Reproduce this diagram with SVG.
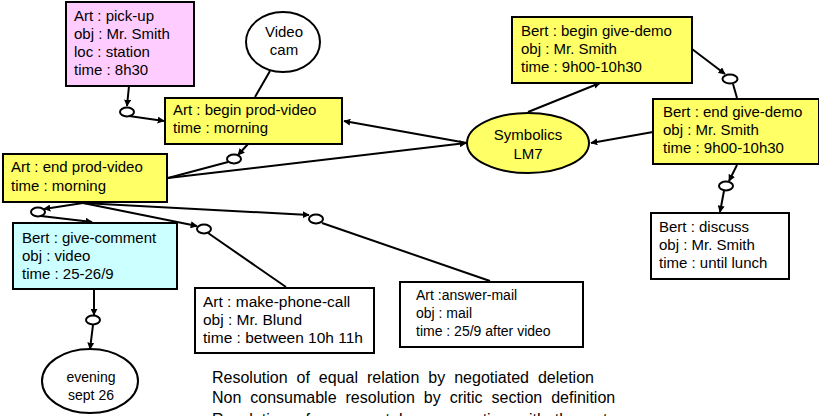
<svg xmlns="http://www.w3.org/2000/svg" width="819" height="416" viewBox="0 0 819 416">
<defs>
<style>
text{font-family:"Liberation Sans",Arial,sans-serif;font-size:15px;fill:#000}
.box{stroke:#000;stroke-width:2}
.y{fill:#ffff66}
.p{fill:#ffccff}
.c{fill:#ccffff}
.w{fill:#fff}
.rel{fill:#fff;stroke:#000;stroke-width:2}
.ln{stroke:#000;stroke-width:2;fill:none}
.a{marker-end:url(#ah)}
.mid{text-anchor:middle}
.note{font-size:16px;word-spacing:4.5px}
</style>
<marker id="ah" viewBox="0 0 10 10" refX="9" refY="5" markerWidth="7" markerHeight="7" markerUnits="userSpaceOnUse" orient="auto">
<path d="M0,0 L10,5 L0,10 z" fill="#000"/>
</marker>
</defs>
<rect width="819" height="416" fill="#fff"/>

<g id="connectors">
<line class="ln a" x1="129" y1="86" x2="127" y2="106"/>
<line class="ln a" x1="129" y1="116" x2="164" y2="121"/>
<line class="ln" x1="255" y1="97" x2="270" y2="71"/>
<line class="ln a" x1="248" y1="144" x2="238" y2="155"/>
<line class="ln" x1="228" y1="162" x2="168" y2="178"/>
<line class="ln a" x1="467" y1="143" x2="344" y2="121"/>
<line class="ln a" x1="168" y1="178" x2="466" y2="143"/>
<line class="ln a" x1="528" y1="112" x2="600" y2="83"/>
<line class="ln a" x1="692" y1="49" x2="725" y2="74"/>
<line class="ln" x1="733" y1="84" x2="737" y2="98"/>
<line class="ln a" x1="653" y1="132" x2="591" y2="143"/>
<line class="ln a" x1="737" y1="165" x2="729" y2="181"/>
<line class="ln a" x1="724" y1="191" x2="720" y2="212"/>
<line class="ln a" x1="83" y1="203" x2="44" y2="209"/>
<line class="ln a" x1="41" y1="216" x2="92" y2="222"/>
<line class="ln a" x1="83" y1="203" x2="197" y2="226"/>
<line class="ln" x1="208" y1="233" x2="286" y2="287"/>
<line class="ln a" x1="83" y1="203" x2="309" y2="215"/>
<line class="ln" x1="322" y1="223" x2="490" y2="281"/>
<line class="ln a" x1="94" y1="290" x2="94" y2="315"/>
<line class="ln a" x1="93" y1="325" x2="90" y2="349"/>
<ellipse class="rel" cx="127" cy="112" rx="7" ry="4.5"/>
<ellipse class="rel" cx="234" cy="159" rx="7" ry="4.5"/>
<ellipse class="rel" cx="730" cy="79" rx="7.5" ry="4.5"/>
<ellipse class="rel" cx="726" cy="186" rx="7" ry="4.5"/>
<ellipse class="rel" cx="38" cy="212" rx="7" ry="4.5"/>
<ellipse class="rel" cx="204" cy="229" rx="7" ry="4.5"/>
<ellipse class="rel" cx="316" cy="219" rx="7" ry="4.5"/>
<ellipse class="rel" cx="93" cy="320" rx="7" ry="4.5"/>
</g>

<g id="pick-up">
<rect class="box p" x="66" y="2" width="128" height="84"/>
<text x="74" y="21">Art : pick-up</text>
<text x="74" y="39">obj : Mr. Smith</text>
<text x="74" y="57">loc : station</text>
<text x="74" y="75">time : 8h30</text>
</g>

<g id="video-cam">
<ellipse class="box w" cx="283" cy="42" rx="37" ry="30"/>
<text class="mid" x="284" y="37">Video</text>
<text class="mid" x="284" y="55">cam</text>
</g>

<g id="begin-prod-video">
<rect class="box y" x="165" y="98" width="177" height="46"/>
<text x="173" y="115">Art : begin prod-video</text>
<text x="173" y="133">time : morning</text>
</g>

<g id="end-prod-video">
<rect class="box y" x="3" y="154" width="164" height="48"/>
<text x="11" y="172">Art : end prod-video</text>
<text x="11" y="191">time : morning</text>
</g>

<g id="symbolics">
<ellipse class="box y" cx="528" cy="143" rx="61" ry="30"/>
<text class="mid" x="528" y="140">Symbolics</text>
<text class="mid" x="528" y="159">LM7</text>
</g>

<g id="begin-give-demo">
<rect class="box y" x="512" y="17" width="180" height="66"/>
<text x="521" y="36">Bert : begin give-demo</text>
<text x="521" y="54">obj : Mr. Smith</text>
<text x="521" y="72">time : 9h00-10h30</text>
</g>

<g id="end-give-demo">
<rect class="box y" x="653" y="99" width="166" height="65"/>
<text x="663" y="117">Bert : end give-demo</text>
<text x="663" y="135">obj : Mr. Smith</text>
<text x="663" y="153">time : 9h00-10h30</text>
</g>

<g id="discuss">
<rect class="box w" x="651" y="213" width="138" height="66"/>
<text x="659" y="232">Bert : discuss</text>
<text x="659" y="250">obj : Mr. Smith</text>
<text x="659" y="268">time : until lunch</text>
</g>

<g id="give-comment">
<rect class="box c" x="13" y="223" width="164" height="66"/>
<text x="22" y="243">Bert : give-comment</text>
<text x="22" y="261">obj : video</text>
<text x="22" y="279">time : 25-26/9</text>
</g>

<g id="evening">
<ellipse class="box w" cx="90" cy="381" rx="48" ry="32"/>
<text class="mid" x="91" y="382" style="font-size:14px">evening</text>
<text class="mid" x="91" y="400" style="font-size:14px">sept 26</text>
</g>

<g id="make-phone-call">
<rect class="box w" x="195" y="288" width="179" height="65"/>
<text x="203" y="307" style="font-size:15.5px">Art : make-phone-call</text>
<text x="203" y="325" style="font-size:15.5px">obj : Mr. Blund</text>
<text x="203" y="343" style="font-size:15.5px">time : between 10h 11h</text>
</g>

<g id="answer-mail">
<rect class="box w" x="400" y="282" width="183" height="65"/>
<text x="416" y="300" style="font-size:14px">Art :answer-mail</text>
<text x="416" y="318" style="font-size:14px">obj : mail</text>
<text x="416" y="336" style="font-size:14px">time : 25/9 after video</text>
</g>

<g id="notes">
<text class="note" x="212" y="383">Resolution of equal relation by negotiated deletion</text>
<text class="note" x="212" y="403">Non consumable resolution by critic section definition</text>
<text class="note" x="212" y="425">Resolution of a request by cooperation with the actor</text>
</g>
</svg>
